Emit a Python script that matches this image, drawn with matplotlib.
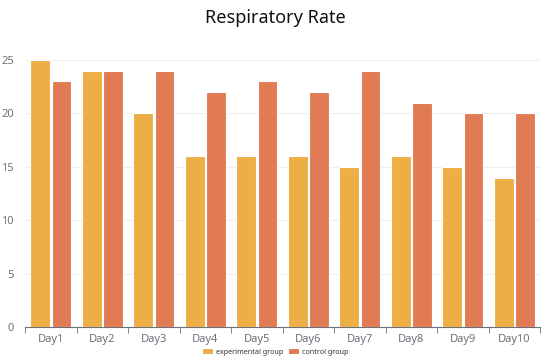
import matplotlib
matplotlib.use("Agg")
import matplotlib.pyplot as plt
import numpy as np

days = ["Day1", "Day2", "Day3", "Day4", "Day5", "Day6", "Day7", "Day8", "Day9", "Day10"]
experimental = [25, 24, 20, 16, 16, 16, 15, 16, 15, 14]
control = [23, 24, 24, 22, 23, 22, 24, 21, 20, 20]
yticks = [0, 5, 10, 15, 20, 25]

plt.rcParams['font.family'] = ['Noto Sans', 'DejaVu Sans']

fig = plt.figure(figsize=(5.5, 3.64), dpi=100)
ax = fig.add_axes([0.0455, 0.1016, 0.9365, 0.7334])

x = np.arange(len(days))
w = 0.38
off = 0.205
ax.bar(x - off, experimental, w, color="#EEAE46", edgecolor="white", linewidth=0.8, label="experimental group", zorder=3)
ax.bar(x + off, control, w, color="#E07B54", edgecolor="white", linewidth=0.8, label="control group", zorder=3)

ax.set_xlim(-0.5, len(days) - 0.5)
ax.set_ylim(0, 25)
ax.set_yticks(yticks)
ax.set_xticks(x)
ax.set_xticklabels(days)
ax.set_xticks(np.arange(len(days) + 1) - 0.5, minor=True)
ax.tick_params(axis='x', which='major', length=0, colors="#6E7079", labelsize=8, pad=5)
ax.tick_params(axis='x', which='minor', length=4, color="#6E7079")
ax.tick_params(axis='y', length=0, colors="#6E7079", labelsize=8, pad=8)
ax.grid(axis='y', color="#EEEEEE", linewidth=0.8, zorder=0)
for s in ["top", "right", "left"]:
    ax.spines[s].set_visible(False)
ax.spines["bottom"].set_color("#6E7079")
ax.spines["bottom"].set_linewidth(0.8)

fig.text(0.5, 0.95, "Respiratory Rate", ha="center", va="center", fontsize=13, color="#111111")

fig.legend(loc="center", bbox_to_anchor=(0.5, 0.033), ncol=2, frameon=False, fontsize=5.2,
           handlelength=1.5, handleheight=0.7, handletextpad=0.4, columnspacing=0.7,
           labelcolor="#333333")

fig.savefig("out.png", dpi=100)
